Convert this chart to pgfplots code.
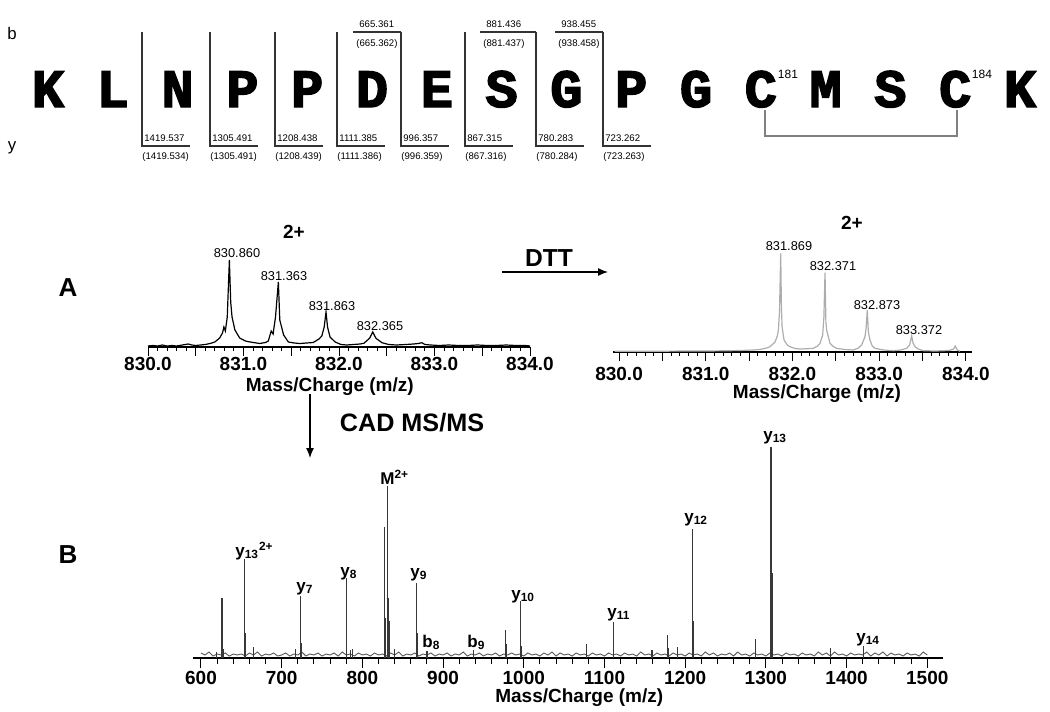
\documentclass[border=0pt]{standalone}
\usepackage{pgfplots}
\pgfplotsset{compat=1.18}
\usepackage{fontspec}
\setmainfont{Liberation Sans}
\newfontfamily\seqfont{Liberation Mono}[BoldFeatures={FakeBold=2.6}]
\usetikzlibrary{arrows.meta}
\definecolor{specB}{gray}{0.22}
\definecolor{noiseB}{gray}{0.35}
\definecolor{specDTT}{gray}{0.68}
\begin{document}
\begin{tikzpicture}
\useasboundingbox (0,0) rectangle (525pt,-356pt);
\begin{scope}[x=0.5pt,y=-0.5pt]
% ---------------- sequence ----------------
\foreach \l [count=\i from 0] in {K,L,N,P,P,D,E,S,G,P,G,C,M,S,C,K} {
  \node[anchor=base, inner sep=0pt, font=\seqfont\bfseries\fontsize{27pt}{27pt}\selectfont] at ({48+64.8*\i},107) {\l};
}
\node[font=\fontsize{8.4pt}{9pt}\selectfont] at (12,33) {b};
\node[font=\fontsize{8.4pt}{9pt}\selectfont] at (12,148) {y};
\tikzset{frag/.style={inner sep=0pt, font=\fontsize{4.8pt}{5pt}\selectfont}}
% y ions
\foreach \xx/\va/\vb in {142/1419.537/1419.534, 210/1305.491/1305.491, 275/1208.438/1208.439, 337/1111.385/1111.386, 401/996.357/996.359, 465/867.315/867.316, 536/780.283/780.284, 603/723.262/723.263} {
  \draw[line width=0.6pt, black!80] (\xx,32) -- (\xx,146) -- (\xx+48,146);
  \node[frag, anchor=west] at (\xx+2,138) {\va};
  \node[frag, anchor=west] at (\xx,157) {(\vb)};
}
% b ions
\foreach \xx/\va/\vb in {353/665.361/665.362, 480/881.436/881.437, 555/938.455/938.458} {
  \draw[line width=0.6pt, black!80] (\xx,32) -- (\xx+48,32);
  \node[frag, anchor=west] at (\xx+6,24) {\va};
  \node[frag, anchor=west] at (\xx+3,44) {(\vb)};
}
\draw[line width=0.6pt, black!80] (536,32) -- (480,32);
% disulfide
\draw[line width=0.6pt, gray] (765,110) -- (765,136) -- (957,136) -- (957,110);
\node[font=\fontsize{6pt}{6pt}\selectfont] at (788,74) {181};
\node[font=\fontsize{6pt}{6pt}\selectfont] at (982,74) {184};
% ---------------- panel labels ----------------
\node[font=\bfseries\fontsize{13pt}{13pt}\selectfont] at (68,288) {A};
\node[font=\bfseries\fontsize{13pt}{13pt}\selectfont] at (68,555) {B};
\node[font=\bfseries\fontsize{9.5pt}{10pt}\selectfont] at (294,232) {2+};
\node[font=\bfseries\fontsize{9.5pt}{10pt}\selectfont] at (852,223) {2+};
\node[font=\bfseries\fontsize{12.3pt}{13pt}\selectfont] at (549,258) {DTT};
\draw[-{Latex[length=5pt,width=4pt]}, line width=0.6pt] (502,272) -- (608,272);
\node[font=\bfseries\fontsize{12.6pt}{13pt}\selectfont] at (412,423) {CAD MS/MS};
\draw[-{Latex[length=5pt,width=4pt]}, line width=0.6pt] (310,394) -- (310,458);
% peak labels A
\tikzset{pl/.style={font=\fontsize{6.4pt}{7pt}\selectfont, inner sep=0pt}}
\node[pl] at (237,253) {830.860};
\node[pl] at (284,276) {831.363};
\node[pl] at (332,306) {831.863};
\node[pl] at (380,326) {832.365};
\node[pl] at (789,246) {831.869};
\node[pl] at (833,266) {832.371};
\node[pl] at (877,305) {832.873};
\node[pl] at (919,330) {833.372};
% peak labels B
\tikzset{bl/.style={font=\bfseries\fontsize{8.5pt}{9pt}\selectfont, inner sep=0pt, anchor=base west}}
\node[bl] at (235,556) {y\textsubscript{13}\textsuperscript{2+}};
\node[bl] at (296,591) {y\textsubscript{7}};
\node[bl] at (340,576) {y\textsubscript{8}};
\node[bl] at (380,484) {M\textsuperscript{2+}};
\node[bl] at (410,577) {y\textsubscript{9}};
\node[bl] at (422,647) {b\textsubscript{8}};
\node[bl] at (467,647) {b\textsubscript{9}};
\node[bl] at (511,599) {y\textsubscript{10}};
\node[bl] at (607,617) {y\textsubscript{11}};
\node[bl] at (684,522) {y\textsubscript{12}};
\node[bl] at (763,440) {y\textsubscript{13}};
\node[bl] at (856,642) {y\textsubscript{14}};
\end{scope}

\pgfplotsset{
  spec/.style={scale only axis, anchor=south west, clip=false,
    axis x line=bottom, axis y line=none,
    axis line style={-, line width=0.6pt},
    tick align=outside, tick style={line width=0.5pt, black},
    /pgf/number format/assume math mode=true,
    xticklabel style={font=\bfseries\fontsize{9.5pt}{10pt}\selectfont},
    xlabel style={font=\bfseries\fontsize{9.5pt}{10pt}\selectfont, anchor=center},
    xlabel={Mass/Charge (m/z)}},
}
% ---------------- A, before DTT ----------------
\begin{axis}[spec, at={(74pt,-173.5pt)}, width=191pt, height=50pt,
  xmin=830, xmax=834, ymin=0, ymax=100,
  xtick={830,831,832,833,834}, xticklabels={830.0,831.0,832.0,833.0,834.0},
  minor x tick num=9, major tick length=4.5pt, minor tick length=2pt,
  extra x ticks={830.5,831.5,832.5,833.5}, extra x tick labels={},
  xticklabel style={yshift=3pt},
  xlabel style={at={(axis description cs:0.476,0)}, yshift=-20pt}]
\addplot[black, line width=0.6pt] coordinates {
(830.00,1)(830.05,1.5)(830.10,1)(830.15,2)(830.20,1)(830.25,1.5)(830.30,1)(830.36,2)(830.42,3)(830.46,2)(830.50,1.5)(830.55,2)(830.60,2.5)(830.65,3.5)(830.70,5)(830.75,9)(830.78,14)(830.795,20)(830.81,16)(830.83,30)(830.852,87)(830.866,45)(830.88,30)(830.91,17)(830.96,9)(831.02,6)(831.07,5)(831.17,3.5)(831.23,4.5)(831.26,6)(831.29,16)(831.31,13)(831.335,30)(831.365,65)(831.38,27)(831.42,12)(831.47,5)(831.53,4)(831.59,3.5)(831.66,4)(831.73,4.5)(831.79,8)(831.82,11)(831.845,20)(831.864,35)(831.88,20)(831.906,10)(831.96,5)(832.02,2.5)(832.08,2)(832.15,2.5)(832.22,3)(832.26,3.7)(832.32,8.7)(832.353,15)(832.387,8.7)(832.45,4.3)(832.52,2.5)(832.60,2)(832.70,2.5)(832.78,3)(832.83,3.5)(832.866,4.3)(832.90,2.5)(832.96,2)(833.05,1.5)(833.15,2)(833.25,1.5)(833.35,1.5)(833.45,2)(833.55,1.5)(833.65,1.5)(833.75,2)(833.85,1.5)(833.95,1.5)(834.0,1)
};
\end{axis}
% ---------------- A, after DTT ----------------
\begin{axis}[spec, at={(306.5pt,-176pt)}, width=179.5pt, height=50pt,
  xmin=829.93, xmax=834.07, ymin=0, ymax=100,
  xtick={830,831,832,833,834}, xticklabels={830.0,831.0,832.0,833.0,834.0},
  minor x tick num=9, major tick length=4.5pt, minor tick length=2pt,
  extra x ticks={830.5,831.5,832.5,833.5}, extra x tick labels={},
  xticklabel style={yshift=0.5pt},
  xlabel style={at={(axis description cs:0.568,0)}, yshift=-21pt}]
\addplot[specDTT, line width=0.6pt] coordinates {
(829.95,0.8)(830.2,0.8)(830.5,0.8)(830.8,1)(831.0,1)(831.2,1.2)(831.4,1.5)(831.55,2)(831.625,2.5)(831.70,4)(831.741,5.3)(831.798,10)(831.825,16)(831.837,22)(831.85,40)(831.864,98.7)(831.872,45)(831.88,25)(831.902,12)(831.94,7)(831.971,5.3)(832.03,3.5)(832.086,3)(832.17,3.3)(832.24,3.7)(832.29,6)(832.317,8.7)(832.348,17)(832.362,35)(832.375,79.3)(832.385,30)(832.394,22)(832.432,8.7)(832.47,5.5)(832.509,3.7)(832.6,2.5)(832.701,2)(832.76,4)(832.797,7)(832.836,15.3)(832.85,25)(832.862,42)(832.875,20)(832.893,12)(832.92,6)(832.951,3.7)(833.05,2)(833.162,1.3)(833.25,2)(833.316,3.7)(833.35,7)(833.374,16)(833.39,9)(833.412,5.3)(833.45,3)(833.508,1.3)(833.65,1)(833.8,1.5)(833.854,2.7)(833.877,6)(833.9,2)(833.931,0.8)
};
\end{axis}
% ---------------- B, CAD MS/MS ----------------
\begin{axis}[spec, at={(96.5pt,-329pt)}, width=375pt, height=110pt,
  xmin=590.1, xmax=1519.5, ymin=0, ymax=220,
  xtick={600,700,...,1500}, xticklabels={600,700,800,900,1000,1100,1200,1300,1400,1500},
  minor x tick num=4, major tick length=5pt, minor tick length=3pt,
  xticklabel style={yshift=-0.3pt, inner sep=1pt},
  xlabel style={at={(axis description cs:0.515,0)}, yshift=-20pt, inner sep=0pt}]
\addplot[noiseB, line width=0.45pt] coordinates {
(600,5)(605,3)(610,6)(615,2)(620,4)(625,3)(630,5)(635,2)(640,4)(645,3)
(650,4)(655,2)(660,5)(665,3)(670,6)(675,2)(680,4)(685,3)(690,5)(695,2)
(700,3)(705,5)(710,2)(715,4)(720,3)(725,6)(730,2)(735,4)(740,3)(745,5)
(750,2)(755,4)(760,3)(765,5)(770,2)(775,6)(780,3)(785,4)(790,2)(795,5)
(800,3)(805,4)(810,2)(815,5)(820,3)(825,4)(830,2)(835,5)(840,3)(845,6)
(850,2)(855,4)(860,3)(865,5)(870,2)(875,4)(880,3)(885,5)(890,2)(895,4)
(900,3)(905,5)(910,2)(915,4)(920,3)(925,6)(930,2)(935,4)(940,3)(945,5)
(950,2)(955,4)(960,3)(965,5)(970,2)(975,4)(980,3)(985,5)(990,3)(995,4)
(1000,2)(1005,5)(1010,3)(1015,4)(1020,2)(1025,5)(1030,3)(1035,6)(1040,2)(1045,5)
(1050,3)(1055,4)(1060,2)(1065,5)(1070,3)(1075,4)(1080,2)(1085,5)(1090,3)(1095,4)
(1100,2)(1105,5)(1110,3)(1115,4)(1120,2)(1125,5)(1130,3)(1135,4)(1140,2)(1145,6)
(1150,3)(1155,4)(1160,2)(1165,5)(1170,3)(1175,4)(1180,2)(1185,5)(1190,3)(1195,4)
(1200,2)(1205,5)(1210,3)(1215,4)(1220,2)(1225,6)(1230,3)(1235,5)(1240,2)(1245,4)
(1250,3)(1255,5)(1260,2)(1265,6)(1270,3)(1275,4)(1280,2)(1285,5)(1290,3)(1295,4)
(1300,2)(1305,5)(1310,3)(1315,4)(1320,2)(1325,5)(1330,3)(1335,4)(1340,2)(1345,5)
(1350,3)(1355,4)(1360,2)(1365,6)(1370,3)(1375,5)(1380,2)(1385,6)(1390,3)(1395,4)
(1400,2)(1405,5)(1410,3)(1415,4)(1420,3)(1425,6)(1430,2)(1435,5)(1440,3)(1445,6)
(1450,2)(1455,5)(1460,3)(1465,4)(1470,2)(1475,5)(1480,3)(1485,4)(1490,2)(1495,6)
(1500,3)
};
\addplot[specB, ycomb, line width=0.6pt] coordinates {
(619,6)(626,60)(628,9)(653.5,99)(654.5,25)(665,11)(717,9)(723.3,62)(724,15)(780.3,80)(785,8)(788,9)(827,131)(828,40)(830.8,172)(832,60)(833.5,37)(840,9)(867.3,75)(868.5,25)(880,7)(937.5,8)(977.6,28)(979,14)(996.2,57)(997.5,12)(1078,14)(1111.6,36)(1159,8)(1177.8,23)(1179,10)(1190.5,11)(1208.8,129)(1209.5,79)(1210.5,37)(1287.6,19)(1306.3,211)(1307,161)(1307.6,85)(1308.3,31)(1380,10)(1420.5,12)
};
\end{axis}
\end{tikzpicture}
\end{document}
